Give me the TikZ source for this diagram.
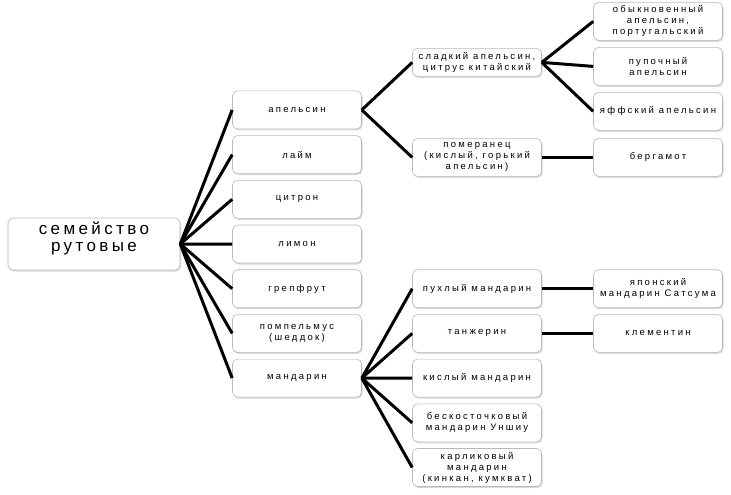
\documentclass[tikz,border=0pt]{standalone}
\usepackage{fontspec}
\setmainfont{Liberation Sans}
\newfontfamily\boxfont{Liberation Sans}[LetterSpace=24]
\newfontfamily\rootfont{Liberation Sans}[LetterSpace=20]
\usetikzlibrary{trees,shadows}

\begin{document}
\begin{tikzpicture}[grow'=right,
		box/.style={draw=gray!55, line width=0.6pt, fill=white, rounded corners=5pt,
			drop shadow={shadow xshift=1pt, shadow yshift=-1.5pt, opacity=.3},
			minimum width=129pt, minimum height=38pt, inner sep=1pt, align=center,
			font=\boxfont\fontsize{9.5}{11}\selectfont},
		rootbox/.style={box, minimum width=172pt, minimum height=52pt,
			text depth=15pt, font=\rootfont\fontsize{17}{17.5}\selectfont},
		every child node/.style={box},
		edge from parent/.style={draw, line width=3pt},
		edge from parent path={(\tikzparentnode.east) -- (\tikzchildnode.west)}]
		\tikzstyle{level 1}=[level distance=203pt, sibling distance=44.7pt];
		\tikzstyle{level 2}=[level distance=180pt, sibling distance=44.7pt];
		\tikzstyle{level 3}=[level distance=181pt, sibling distance=45pt];
		\useasboundingbox (0,0) rectangle (731pt,-495pt);

		\node[rootbox] (root) at (94pt,-244pt) {семейство\\рутовые}
		child {	node (apelsin) {апельсин}
				child[sibling distance=95pt] {	node[minimum height=28pt] (sladkij) {сладкий апельсин,\\цитрус китайский}
						child[yshift=-4pt] {	node (obykn) {обыкновенный\\апельсин,\\португальский}}
						child[yshift=-4pt] {	node (pupoch) {пупочный\\апельсин}}
						child[yshift=-4pt] {	node (yaff) {яффский апельсин}}
					}
				child[sibling distance=95pt] {	node (pomer) {померанец\\(кислый, горький\\апельсин)}
						child {	node (bergamot) {бергамот}}
					}
			}
		child {	node (lajm) {лайм}}
		child {	node (citron) {цитрон}}
		child {	node (limon) {лимон}}
		child {	node (grejpfrut) {грепфрут}}
		child {	node (pompelmus) {помпельмус\\(шеддок)}}
		child {	node (mandarin) {мандарин}
				child {	node (puhlyj) {пухлый мандарин}
						child {	node (satsuma) {японский\\мандарин Сатсума}}
					}
				child {	node (tanzhe) {танжерин}
						child {	node (klement) {клементин}}
					}
				child {	node (kislyj) {кислый мандарин}}
				child {	node (unshiu) {бескосточковый\\мандарин Уншиу}}
				child {	node (karlik) {карликовый\\мандарин\\(кинкан, кумкват)}}
			};
	\end{tikzpicture}
\end{document}
